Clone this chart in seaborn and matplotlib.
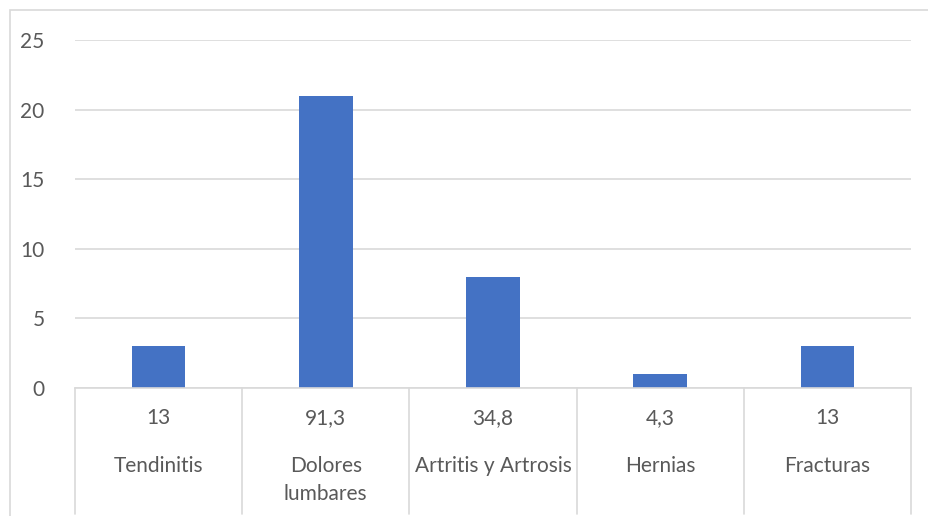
import matplotlib
matplotlib.use("Agg")
import matplotlib.pyplot as plt
import matplotlib.transforms as mtransforms
from matplotlib.patches import Rectangle
import seaborn as sns

categories = ["Tendinitis", "Dolores\nlumbares", "Artritis y Artrosis", "Hernias", "Fracturas"]
values = [3, 21, 8, 1, 3]
sublabels = ["13", "91,3", "34,8", "4,3", "13"]
yticks = [0, 5, 10, 15, 20, 25]

sns.set_style("white")
plt.rcParams["font.family"] = ["Lato", "DejaVu Sans"]

W, H = 929, 516
fig = plt.figure(figsize=(W / 100, H / 100), dpi=100)
ax = fig.add_axes([75 / W, 1 - 388 / H, (911 - 75) / W, (388 - 40) / H])

text_col = "#595959"
grid_col = "#D9D9D9"
fs = 15

sns.barplot(x=list(range(len(values))), y=values, color="#4472C4", width=0.32,
            saturation=1, linewidth=0, ax=ax, native_scale=True)

ax.set_xlim(-0.5, len(values) - 0.5)
ax.set_ylim(0, 25)
ax.set_yticks(yticks)
ax.set_yticklabels([str(t) for t in yticks], fontsize=fs, color=text_col)
ax.tick_params(axis="y", length=0, pad=22)
ax.set_xticks([])
ax.set_xlabel("")
ax.set_ylabel("")
ax.yaxis.grid(True, color=grid_col, linewidth=1.2)
ax.set_axisbelow(True)
for s in ["top", "right", "left"]:
    ax.spines[s].set_visible(False)
ax.spines["bottom"].set_color(grid_col)
ax.spines["bottom"].set_linewidth(1.2)

# multi-level category axis
trans = mtransforms.blended_transform_factory(ax.transData, ax.transAxes)
lower = -(514 - 388) / (388 - 40)
for i in range(len(values) + 1):
    ax.plot([i - 0.5, i - 0.5], [0, lower], transform=trans, color=grid_col,
            linewidth=1.2, clip_on=False)
for i, (cat, sub) in enumerate(zip(categories, sublabels)):
    ax.text(i, -(418 - 388) / 348, sub, transform=trans, ha="center", va="center",
            fontsize=fs, color=text_col)
    ax.text(i, -(456 - 388) / 348, cat, transform=trans, ha="center", va="top",
            fontsize=fs, color=text_col, linespacing=1.5)

# outer chart border
fig.patches.append(Rectangle((10 / W, -0.1), 1.0, 1 - 10 / H + 0.1, transform=fig.transFigure,
                             fill=False, edgecolor=grid_col, linewidth=1.2))

fig.savefig("out.png", dpi=100)
